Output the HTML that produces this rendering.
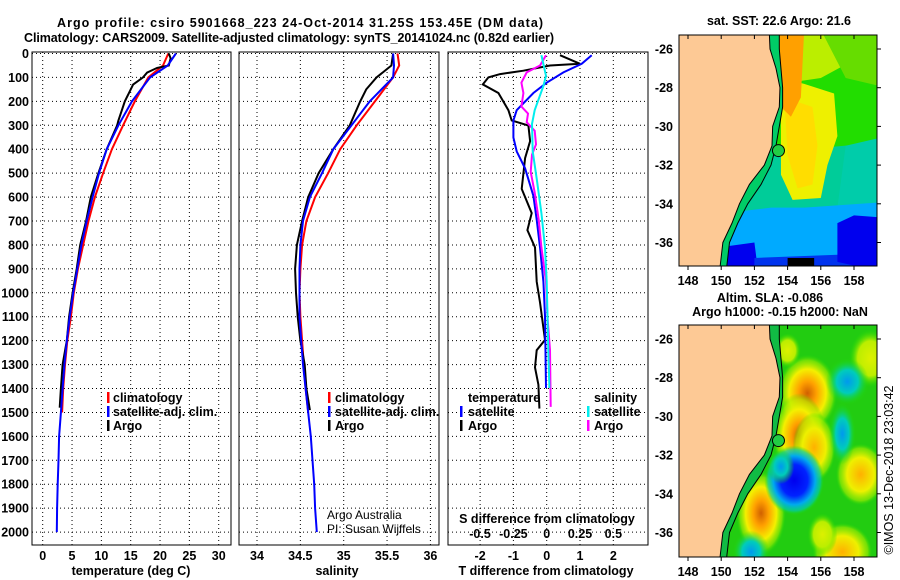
<!DOCTYPE html>
<html><head><meta charset="utf-8">
<style>
html,body{margin:0;padding:0;background:#fff;}
svg{display:block;font-family:"Liberation Sans",sans-serif;}
.t{font-weight:bold;font-size:12.5px;fill:#000;}
</style></head>
<body>
<svg id="svg" width="900" height="580" viewBox="0 0 900 580" xmlns="http://www.w3.org/2000/svg">
<defs>
<radialGradient id="gOr"><stop offset="0" stop-color="#d06000"/><stop offset="0.3" stop-color="#ffa000"/><stop offset="0.62" stop-color="#f4f000"/><stop offset="0.85" stop-color="#aaee00" stop-opacity="0.6"/><stop offset="1" stop-color="#22dd00" stop-opacity="0"/></radialGradient>
<radialGradient id="gYe"><stop offset="0" stop-color="#ffb000"/><stop offset="0.55" stop-color="#eef000"/><stop offset="0.85" stop-color="#aaee00" stop-opacity="0.6"/><stop offset="1" stop-color="#22dd00" stop-opacity="0"/></radialGradient>
<radialGradient id="gLy"><stop offset="0" stop-color="#ddf000"/><stop offset="0.6" stop-color="#bbee00"/><stop offset="1" stop-color="#22dd00" stop-opacity="0"/></radialGradient>
<radialGradient id="gBl"><stop offset="0" stop-color="#0000ee"/><stop offset="0.45" stop-color="#0022ff"/><stop offset="0.7" stop-color="#00aaee"/><stop offset="0.88" stop-color="#00ccaa" stop-opacity="0.7"/><stop offset="1" stop-color="#22dd00" stop-opacity="0"/></radialGradient>
<radialGradient id="gLb"><stop offset="0" stop-color="#0099ee"/><stop offset="0.5" stop-color="#00ccbb"/><stop offset="1" stop-color="#22dd00" stop-opacity="0"/></radialGradient>
<clipPath id="clipA"><rect x="679" y="35" width="198" height="231"/></clipPath>
<clipPath id="clipB"><rect x="679" y="325" width="198" height="232"/></clipPath>
</defs>
<text class="t" x="300" y="27" text-anchor="middle" textLength="486">Argo profile: csiro 5901668_223 24-Oct-2014 31.25S 153.45E (DM data)</text>
<text class="t" x="289" y="42" text-anchor="middle" textLength="530">Climatology: CARS2009. Satellite-adjusted climatology: synTS_20141024.nc (0.82d earlier)</text>
<g id="charts"></g>
<g id="maps"></g>
<text x="893" y="470" font-size="12.5" transform="rotate(-90 893 470)" text-anchor="middle">©IMOS 13-Dec-2018 23:03:42</text>
</svg>
<script>
// ---------- data ----------
const tDepth = [0,50,100,200,300,400,500,600,700,800,900,1000,1100,1200,1300,1400,1500];
const tClim  = [21.4,20.5,18,15.7,13.7,11.8,10.3,8.9,7.8,6.9,6.0,5.3,4.8,4.2,3.8,3.5,3.3];
const tSatDepth = [0,50,100,200,300,400,500,600,700,800,900,1000,1100,1200,1300,1400,1500,1600,1700,1800,1900,2000];
const tSat   = [22.7,21.3,18.3,15.2,12.9,10.9,9.6,8.5,7.5,6.6,5.9,5.2,4.6,4.1,3.7,3.4,3.1,2.8,2.7,2.55,2.45,2.4];
const argoDepth = [0,20,50,60,80,100,130,200,280,300,400,500,600,700,800,900,1000,1100,1200,1300,1400,1480];
const tArgo  = [21.5,21.8,21.5,19.5,17.8,17.1,15.4,14,12.9,12.7,10.9,9.5,8.2,7.4,6.4,5.8,5.1,4.5,4.1,3.4,3.1,2.9];
const sArgoDepth = [0,50,100,150,200,250,300,400,500,600,700,800,900,1000,1100,1200,1300,1400,1490];
const sArgo  = [35.57,35.55,35.38,35.26,35.19,35.13,35.07,34.88,34.71,34.59,34.52,34.46,34.44,34.45,34.47,34.5,34.55,34.57,34.61];
const sClim  = [35.62,35.64,35.57,35.36,35.15,34.96,34.82,34.67,34.57,34.52,34.5,34.49,34.5,34.52,34.54,34.56,34.59];
const sSat   = [35.57,35.58,35.57,35.3,35.09,34.88,34.75,34.61,34.53,34.5,34.49,34.49,34.49,34.51,34.53,34.56,34.59,34.62,34.64,34.66,34.67,34.69];
const dTArgoDepth = [7,43,50,72,86,100,129,165,237,280,301,366,437,566,667,738,810,953,1040,1197,1240,1312,1384,1484];
const dTArgo = [0.4,1.0,0.1,-0.7,-1.4,-1.75,-1.92,-1.45,-1.15,-1.05,-0.55,-0.5,-0.65,-0.75,-0.45,-0.58,-0.35,-0.3,-0.2,-0.05,-0.3,-0.35,-0.25,-0.22];
const dTSatDepth = [7,43,79,122,165,237,280,351,409,480,595,695,810,953,1097,1398];
const dTSat  = [1.35,1.05,0.5,0,-0.4,-0.9,-1.0,-1.0,-0.9,-0.65,-0.4,-0.3,-0.2,-0.1,-0.05,-0.02];
const dSSatDepth = [7,93,136,237,294,409,523,667,810,953,1240,1398];
const dSSat  = [-0.04,-0.005,-0.025,-0.09,-0.11,-0.105,-0.075,-0.04,-0.013,0,0.012,0.02];
const dSArgoDepth = [7,50,79,122,165,222,251,287,323,380,423,495,581,695,810,953,1097,1240,1477];
const dSArgo = [-0.005,-0.05,-0.15,-0.19,-0.175,-0.19,-0.14,-0.15,-0.09,-0.08,-0.11,-0.12,-0.09,-0.06,-0.04,-0.005,0.005,0.025,0.03];
const depthTicks = [0,100,200,300,400,500,600,700,800,900,1000,1100,1200,1300,1400,1500,1600,1700,1800,1900,2000];
const tTicks = [0,5,10,15,20,25,30];
const sTicks = [34,34.5,35,35.5,36];
const dTTicks = [-2,-1,0,1,2];
const dSTicks = [-0.5,-0.25,0,0.25,0.5];
const dSTickLabels = ["-0.5","-0.25","0","0.25","0.5"];

const NS='http://www.w3.org/2000/svg';
const charts=document.getElementById('charts');
function mk(tag,attrs,parent){const e=document.createElementNS(NS,tag);for(const k in attrs)e.setAttribute(k,attrs[k]);(parent||charts).appendChild(e);return e;}
const TOP=52,BOT=545;
const yD=d=>53.5+d*0.2393;
const xT=v=>42.7+v*5.867;
const xS=v=>257+(v-34)*86.7;
const xDT=v=>546.7+v*33.3;
const xDS=v=>546.7+v*133.3;

function panel(x0,x1,name,xs,ticks,labels,showDepth){
  const g=mk('g',{});
  
  
  depthTicks.forEach(d=>{
    const l=mk('line',{x1:x0,x2:x1,y1:yD(d),y2:yD(d),stroke:'#000','stroke-width':1,'stroke-dasharray':'1,3'},g);
    
    
    if(showDepth){
      const t=mk('text',{x:29,y:yD(d)+4.5,'text-anchor':'end',class:'t'},g);
      t.textContent=d;
      
      
    }
  });
  ticks.forEach((v,i)=>{
    const l=mk('line',{x1:xs(v),x2:xs(v),y1:TOP,y2:BOT,stroke:'#000','stroke-width':1,'stroke-dasharray':'1,3'},g);
    
    
    const t=mk('text',{x:xs(v),y:560,'text-anchor':'middle',class:'t'},g);
    t.textContent=labels[i];
    
    
  });
  const r=mk('rect',{x:x0,y:TOP,width:x1-x0,height:BOT-TOP,fill:'none',stroke:'#000','stroke-width':1},g);
  
  
  return g;
}
function line(g,depths,vals,xs,color,name){
  const pts=depths.map((d,i)=>xs(vals[i]).toFixed(1)+','+yD(d).toFixed(1)).join(' ');
  const p=mk('polyline',{points:pts,fill:'none',stroke:color,'stroke-width':2},g);
  
  
}
function txt(g,x,y,s,name,extra){
  const t=mk('text',Object.assign({x:x,y:y,class:'t'},extra||{}),g);
  t.textContent=s;
  
  
  return t;
}
function legendBar(g,x,y,color){
  const r=mk('rect',{x:x,y:y-9,width:2.5,height:11,fill:color},g);
  
  
}

// panel 1 temperature
const p1=panel(32,231,'temperature-panel',xT,tTicks,tTicks.map(String),true);
line(p1,tDepth,tClim,xT,'#ff0000','climatology-temperature-line');
line(p1,argoDepth,tArgo,xT,'#000000','argo-temperature-line');
line(p1,tSatDepth,tSat,xT,'#0000ff','satellite-temperature-line');
txt(p1,131,575,'temperature (deg C)','temperature-axis-title',{'text-anchor':'middle'});
legendBar(p1,107,401,'#ff0000');txt(p1,113,402,'climatology','legend-climatology');
legendBar(p1,107,415,'#0000ff');txt(p1,113,416,'satellite-adj. clim.','legend-satellite');
legendBar(p1,107,429,'#000000');txt(p1,113,430,'Argo','legend-argo');

// panel 2 salinity
const p2=panel(239,439,'salinity-panel',xS,sTicks,['34','34.5','35','35.5','36'],false);
line(p2,tDepth,sClim,xS,'#ff0000','climatology-salinity-line');
line(p2,sArgoDepth,sArgo,xS,'#000000','argo-salinity-line');
line(p2,tSatDepth,sSat,xS,'#0000ff','satellite-salinity-line');
txt(p2,337,575,'salinity','salinity-axis-title',{'text-anchor':'middle'});
legendBar(p2,328,401,'#ff0000');txt(p2,335,402,'climatology','legend-climatology');
legendBar(p2,328,415,'#0000ff');txt(p2,335,416,'satellite-adj. clim.','legend-satellite');
legendBar(p2,328,429,'#000000');txt(p2,335,430,'Argo','legend-argo');
txt(p2,327,519,'Argo Australia','credit-argo-australia',{style:'font-weight:normal;font-size:12px'});
txt(p2,327,533,'PI: Susan Wijffels','credit-pi',{style:'font-weight:normal;font-size:12px'});

// panel 3 differences
const p3=panel(448,648,'difference-panel',xDT,dTTicks,dTTicks.map(String),false);
line(p3,dTArgoDepth,dTArgo,xDT,'#000000','argo-temperature-difference-line');
line(p3,dTSatDepth,dTSat,xDT,'#0000ff','satellite-temperature-difference-line');
line(p3,dSArgoDepth,dSArgo,xDS,'#ff00ff','argo-salinity-difference-line');
line(p3,dSSatDepth,dSSat,xDS,'#00eeee','satellite-salinity-difference-line');
dSTicks.forEach((v,i)=>{txt(p3,xDS(v),538,dSTickLabels[i],'s-diff-tick-label',{'text-anchor':'middle'});});
txt(p3,547,523,'S difference from climatology','s-diff-axis-title',{'text-anchor':'middle'});
txt(p3,546,575,'T difference from climatology','t-diff-axis-title',{'text-anchor':'middle'});
txt(p3,468,402,'temperature','legend-temperature-heading');
legendBar(p3,460,415,'#0000ff');txt(p3,468,416,'satellite','legend-t-satellite');
legendBar(p3,460,429,'#000000');txt(p3,468,430,'Argo','legend-t-argo');
txt(p3,594,402,'salinity','legend-salinity-heading');
legendBar(p3,587,415,'#00eeee');txt(p3,594,416,'satellite','legend-s-satellite');
legendBar(p3,587,429,'#ff00ff');txt(p3,594,430,'Argo','legend-s-argo');

// ---------- maps ----------
const maps=document.getElementById('maps');
const lonT=[148,150,152,154,156,158];
const latT=[-26,-28,-30,-32,-34,-36];
const coast=[[152.9,-25.2],[152.94,-26],[153.3,-27],[153.54,-28],[153.5,-29],[153.1,-30],[153.06,-31],[152.6,-32],[151.7,-33],[151.1,-34],[150.65,-35],[150.1,-36],[149.9,-37.5]];
const contour=[[153.5,-25.2],[153.5,-26],[153.6,-27],[153.7,-28],[153.7,-29],[153.5,-30],[153.3,-31],[153,-32],[152.4,-33],[151.6,-34],[151,-35],[150.5,-36],[150.3,-37.5]];
function drawMap(x0,y0,y26,name,clip,kind){
  const g=mk('g',{},maps);
  
  
  const X=lon=>688+(lon-148)*16.6;
  const Y=lat=>y26+(-26-lat)*19.35;
  const h=kind==='sst'?231:232;
  const inner=mk('g',{'clip-path':'url(#'+clip+')'},g);
  mk('rect',{x:x0,y:y0,width:198,height:h,fill:kind==='sst'?'#22dd00':'#22cc11'},inner);
  const E=(lon,lat,rx,ry,fill)=>mk('ellipse',{cx:X(lon),cy:Y(lat),rx:rx*16.6,ry:ry*19.35,fill:fill},inner);
  const P=(pts,fill)=>mk('polygon',{points:pts.map(p=>X(p[0])+','+Y(p[1])).join(' '),fill:fill},inner);
  if(kind==='sst'){
    P([[151,-31.5],[160,-30.8],[160,-38],[151,-38]],'#00cc99');
    P([[153.5,-25],[158,-25],[157.5,-26.8],[156,-27.5],[153.6,-27.8]],'#bbee00');
    P([[156,-25],[160,-25],[160,-28],[157.5,-27.5]],'#66dd00');
    P([[153.6,-27.5],[155,-27.8],[156.8,-28.3],[157,-30.5],[156.4,-32],[156,-33.7],[154.3,-33.8],[153.6,-32.5]],'#eef000');
    P([[153.8,-28.5],[155.5,-29],[155.8,-31],[155.5,-33],[154.6,-33.2],[154,-31.5]],'#ffdd00');
    P([[153.5,-25],[155,-25],[154.8,-28.5],[154.2,-29.5],[153.6,-29]],'#ffa000');
    P([[157.5,-31],[160,-30.5],[160,-34],[157,-34.2]],'#00ccaa');
    P([[150,-34.5],[153,-34.2],[155,-34.2],[160,-33.9],[160,-38],[150,-38]],'#00aaff');
    P([[150.3,-36.2],[152,-36],[152.3,-38],[150.3,-38]],'#0000ee');
    P([[152,-36.8],[158,-36.6],[158,-38],[152,-38]],'#0033ee');
    P([[157,-35],[158,-34.6],[159.6,-34.7],[159.6,-37.5],[157,-37]],'#0000ee');
    P([[154,-36.8],[155.6,-36.8],[155.6,-38],[154,-38]],'#000000');
  } else {
    E(155.2,-28.8,1.8,2.0,'url(#gOr)');
    E(154.7,-31.0,1.6,2.2,'url(#gOr)');
    E(155.6,-31.6,1.3,1.8,'url(#gYe)');
    E(152.4,-35,1.5,2.2,'url(#gOr)');
    E(158.4,-33,1.5,1.6,'url(#gYe)');
    E(157.3,-37,1.8,1.5,'url(#gYe)');
    E(159,-27,1.3,1.5,'url(#gLy)');
    E(156.1,-36.1,0.9,1.1,'url(#gLy)');
    E(154,-26.6,0.8,0.9,'url(#gLy)');
    E(157.6,-28.2,1.3,1.2,'url(#gLb)');
    E(157.3,-30.9,0.8,1.6,'url(#gLb)');
    E(151.8,-37,1.1,1.1,'url(#gLb)');
    E(154.4,-33.3,1.8,1.8,'url(#gBl)');
    E(153.6,-32.6,0.8,0.9,'url(#gLb)');
  }
  const band=coast.map(p=>X(p[0])+','+Y(p[1])).concat(contour.slice().reverse().map(p=>X(p[0])+','+Y(p[1]))).join(' ');
  mk('polygon',{points:band,fill:kind==='sst'?'#00cc66':'#11bb44'},inner);
  const land=[X(140)+','+Y(-25)].concat(coast.map(p=>X(p[0])+','+Y(p[1]))).concat([X(140)+','+Y(-38)]).join(' ');
  const l=mk('polygon',{points:land,fill:'#fdc995',stroke:'#000','stroke-width':1},inner);
  
  
  mk('polyline',{points:contour.map(p=>X(p[0])+','+Y(p[1])).join(' '),fill:'none',stroke:'#000','stroke-width':1},inner);
  const c=mk('circle',{cx:X(153.45),cy:Y(-31.25),r:6,fill:'#22cc44',stroke:'#000','stroke-width':1},g);
  
  
  mk('rect',{x:x0,y:y0,width:198,height:h,fill:'none',stroke:'#000','stroke-width':1},g);
  lonT.forEach(v=>{
    mk('line',{x1:X(v),x2:X(v),y1:y0,y2:y0+4,stroke:'#000'},g);
    mk('line',{x1:X(v),x2:X(v),y1:y0+h,y2:y0+h+4,stroke:'#000'},g);
    const t=mk('text',{x:X(v),y:y0+h+19,'text-anchor':'middle',class:'t'},g);
    t.textContent=v;
    
    
  });
  latT.forEach(v=>{
    mk('line',{x1:x0+198,x2:x0+202,y1:Y(v),y2:Y(v),stroke:'#000'},g);
    const t=mk('text',{x:673,y:Y(v)+4.5,'text-anchor':'end',class:'t'},g);
    t.textContent=v;
    
    
  });
}
drawMap(679,35,49,'sst-map','clipA','sst');
drawMap(679,325,339,'sla-map','clipB','sla');
const mt=[[779,25,'sat. SST: 22.6 Argo: 21.6','sst-map-title'],[770,302,'Altim. SLA: -0.086','sla-map-title'],[780,316,'Argo h1000: -0.15 h2000: NaN','argo-height-title']];
mt.forEach(m=>{const t=mk('text',{x:m[0],y:m[1],'text-anchor':'middle',class:'t'},maps);t.textContent=m[2];});
</script>
</body></html>
